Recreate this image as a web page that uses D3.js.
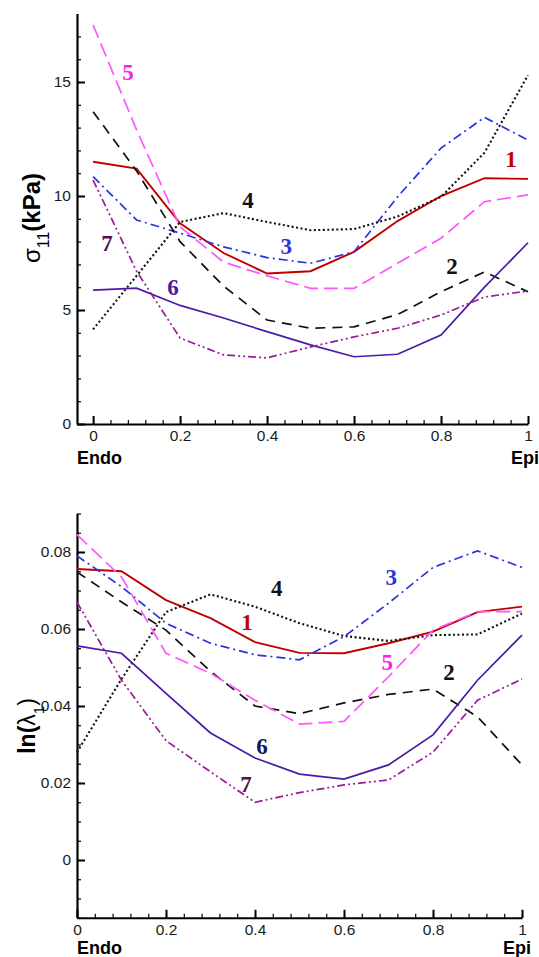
<!DOCTYPE html>
<html>
<head>
<meta charset="utf-8">
<script src="https://cdn.jsdelivr.net/npm/d3@7/dist/d3.min.js"></script>
<style>
  body { margin: 0; background: #fff; }
  svg { display: block; }
  .tick text { font-family: "Liberation Sans", Arial, sans-serif; font-size: 15.5px; fill: #1a1a1a; }
</style>
</head>
<body>
<div id="chart"></div>
<script>
// transmural position (Endo -> Epi)
const positions = [0, 0.1, 0.2, 0.3, 0.4, 0.5, 0.6, 0.7, 0.8, 0.9, 1];

// top panel: sigma11 (kPa)
const stress1 = [11.5, 11.2, 8.8, 7.5, 6.6, 6.7, 7.55, 8.9, 10.0, 10.78, 10.75];
const stress2 = [13.7, 11.1, 8.0, 6.05, 4.56, 4.2, 4.26, 4.8, 5.8, 6.67, 5.8];
const stress3 = [10.85, 8.95, 8.37, 7.77, 7.3, 7.05, 7.55, 9.96, 12.1, 13.45, 12.45];
const stress4 = [4.15, 6.5, 8.86, 9.25, 8.86, 8.5, 8.55, 9.1, 9.96, 11.9, 15.3];
const stress5 = [17.5, 12.9, 8.65, 7.1, 6.5, 5.95, 5.95, 7.05, 8.15, 9.75, 10.05];
const stress6 = [5.87, 5.96, 5.2, 4.65, 4.05, 3.47, 2.95, 3.06, 3.9, 6.0, 7.95];
const stress7 = [10.7, 6.7, 3.77, 3.03, 2.9, 3.38, 3.82, 4.2, 4.78, 5.57, 5.83];

// bottom panel: ln(lambda1)
const strain1 = [0.0756, 0.075, 0.0675, 0.0628, 0.0566, 0.0538, 0.0537, 0.0563, 0.0593, 0.0644, 0.0658];
const strain2 = [0.0748, 0.067, 0.0597, 0.049, 0.040, 0.038, 0.0408, 0.043, 0.0444, 0.0372, 0.0247];
const strain3 = [0.079, 0.071, 0.0615, 0.0563, 0.0533, 0.052, 0.058, 0.0667, 0.076, 0.0803, 0.076];
const strain4 = [0.028, 0.047, 0.0644, 0.069, 0.0658, 0.0615, 0.0582, 0.0569, 0.0584, 0.0586, 0.064];
const strain5 = [0.0845, 0.0735, 0.0537, 0.0485, 0.0415, 0.0353, 0.036, 0.0476, 0.0597, 0.0645, 0.0645];
const strain6 = [0.0556, 0.0537, 0.0433, 0.033, 0.0265, 0.0223, 0.021, 0.0247, 0.0325, 0.0467, 0.0584];
const strain7 = [0.067, 0.0467, 0.031, 0.0229, 0.015, 0.0175, 0.0195, 0.0208, 0.028, 0.0415, 0.047];

// tick labels
const xTicks = [0, 0.2, 0.4, 0.6, 0.8, 1];
const stressTicks = [0, 5, 10, 15];
const strainTicks = [0, 0.02, 0.04, 0.06, 0.08];

// curve labels, in data coordinates [x, value]
const stressLabelPos = [[0.961, 11.6], [0.825, 6.9], [0.444, 7.8], [0.356, 9.8], [0.08, 15.4], [0.184, 6.0], [0.032, 7.9]];
const strainLabelPos = [[0.382, 0.0616], [0.836, 0.0486], [0.706, 0.0735], [0.449, 0.0706], [0.697, 0.0512], [0.416, 0.0294], [0.38, 0.0195]];

// line styles for curves 1..7
const styles = [
  { stroke: '#c00000', dash: null, width: 1.9, label: '#c00000' },
  { stroke: '#111', dash: '10,7', width: 1.7, label: '#111' },
  { stroke: '#2a35e0', dash: '9,4,2,4', width: 1.7, label: '#2a35d8' },
  { stroke: '#111', dash: '2,2.5', width: 2.1, label: '#111' },
  { stroke: '#ff55ff', dash: '14,6', width: 1.7, label: '#ff1ee8' },
  { stroke: '#4a1aa8', dash: null, width: 1.7, label: '#4f16a0' },
  { stroke: '#9a1a9a', dash: '8,3,2,3,2,3', width: 1.7, label: '#5a0f55' }
];

const width = 539, height = 957;
const svg = d3.select('#chart').append('svg')
  .attr('width', width)
  .attr('height', height);

const drawPanel = (cfg) => {
  const x = d3.scaleLinear().domain(cfg.xDomain).range(cfg.xRange);
  const y = d3.scaleLinear().domain(cfg.yDomain).range(cfg.yRange);
  const g = svg.append('g');
  const yBase = cfg.yRange[0];
  const xBase = cfg.xRange[0];

  // minor ticks
  g.append('g')
    .attr('transform', `translate(0,${yBase})`)
    .call(d3.axisBottom(x).tickValues(cfg.xMinor).tickSize(-4).tickFormat(''))
    .call(a => a.select('.domain').remove())
    .selectAll('line').attr('stroke', '#000').attr('stroke-width', 1.2);
  g.append('g')
    .attr('transform', `translate(${xBase},0)`)
    .call(d3.axisLeft(y).tickValues(cfg.yMinor).tickSize(-4).tickFormat(''))
    .call(a => a.select('.domain').remove())
    .selectAll('line').attr('stroke', '#000').attr('stroke-width', 1.2);

  // major ticks + labels
  const xa = g.append('g')
    .attr('transform', `translate(0,${yBase})`)
    .call(d3.axisBottom(x).tickValues(xTicks).tickSize(-8).tickPadding(6).tickSizeOuter(0).tickFormat(d3.format('~g')));
  xa.select('.domain').attr('stroke', '#000').attr('stroke-width', 2.2);
  xa.selectAll('.tick line').attr('stroke', '#000').attr('stroke-width', 2);

  const ya = g.append('g')
    .attr('transform', `translate(${xBase},0)`)
    .call(d3.axisLeft(y).tickValues(cfg.yTicks).tickSize(-8).tickPadding(6).tickSizeOuter(0).tickFormat(d3.format('~g')));
  ya.select('.domain').attr('stroke', '#000').attr('stroke-width', 2.2);
  ya.selectAll('.tick line').attr('stroke', '#000').attr('stroke-width', 2);

  const line = d3.line()
    .x((d, i) => x(positions[i]))
    .y(d => y(d));

  cfg.series.forEach((s, i) => {
    const st = styles[i];
    g.append('path')
      .datum(s)
      .attr('fill', 'none')
      .attr('stroke', st.stroke)
      .attr('stroke-width', st.width)
      .attr('stroke-dasharray', st.dash)
      .attr('d', line);
  });

  cfg.labels.forEach((p, i) => {
    g.append('text')
      .attr('x', x(p[0]))
      .attr('y', y(p[1]))
      .attr('text-anchor', 'middle')
      .attr('dominant-baseline', 'central')
      .style('font-family', '"Liberation Serif", "Times New Roman", serif')
      .style('font-weight', 'bold')
      .style('font-size', '23px')
      .style('fill', cfg.labelColors ? cfg.labelColors[i] : styles[i].label)
      .text(i + 1);
  });

  // Endo / Epi
  g.append('text')
    .attr('x', xBase)
    .attr('y', cfg.endoY)
    .style('font-family', '"Liberation Sans", Arial, sans-serif')
    .style('font-weight', 'bold')
    .style('font-size', '18px')
    .text('Endo');
  g.append('text')
    .attr('x', cfg.epiX)
    .attr('y', cfg.endoY)
    .attr('text-anchor', 'end')
    .style('font-family', '"Liberation Sans", Arial, sans-serif')
    .style('font-weight', 'bold')
    .style('font-size', '18px')
    .text('Epi');

  // y title
  const t = g.append('text')
    .attr('transform', `translate(${cfg.titlePos[0]},${cfg.titlePos[1]}) rotate(-90)`)
    .attr('text-anchor', 'middle')
    .style('font-family', '"Liberation Sans", Arial, sans-serif')
    .style('font-size', cfg.titleSize);
  cfg.title(t);
};

drawPanel({
  xDomain: [-0.037, 1], xRange: [77, 528],
  yDomain: [0, 18], yRange: [424, 13.6],
  xMinor: d3.range(0, 26).map(i => +(i * 0.04).toFixed(2)),
  yMinor: d3.range(0, 18).map(i => i),
  yTicks: stressTicks,
  series: [stress1, stress2, stress3, stress4, stress5, stress6, stress7],
  labels: stressLabelPos,
  epiX: 539,
  endoY: 464,
  titlePos: [40, 218],
  titleSize: '24px',
  title: t => {
    t.append('tspan').text('σ');
    t.append('tspan').attr('baseline-shift', 'sub').style('font-size', '16px').text('11');
    t.append('tspan').style('font-weight', 'bold').text('(kPa)');
  }
});

drawPanel({
  xDomain: [0, 1], xRange: [77, 522],
  yDomain: [-0.015, 0.09], yRange: [917.75, 513.5],
  xMinor: d3.range(0, 26).map(i => +(i * 0.04).toFixed(2)),
  yMinor: d3.range(0, 22).map(i => +(-0.015 + i * 0.005).toFixed(3)),
  yTicks: strainTicks,
  series: [strain1, strain2, strain3, strain4, strain5, strain6, strain7],
  labels: strainLabelPos,
  labelColors: ['#c00000', '#111', '#2a35d8', '#111', '#ff1ee8', '#15155a', '#5a0f55'],
  epiX: 531,
  endoY: 954,
  titlePos: [35, 726],
  titleSize: '23px',
  title: t => {
    t.append('tspan').style('font-weight', 'bold').text('ln(');
    t.append('tspan').text('λ');
    t.append('tspan').attr('baseline-shift', 'sub').style('font-size', '15px').text('1');
    t.append('tspan').text(')');
  }
});
</script>
</body>
</html>
